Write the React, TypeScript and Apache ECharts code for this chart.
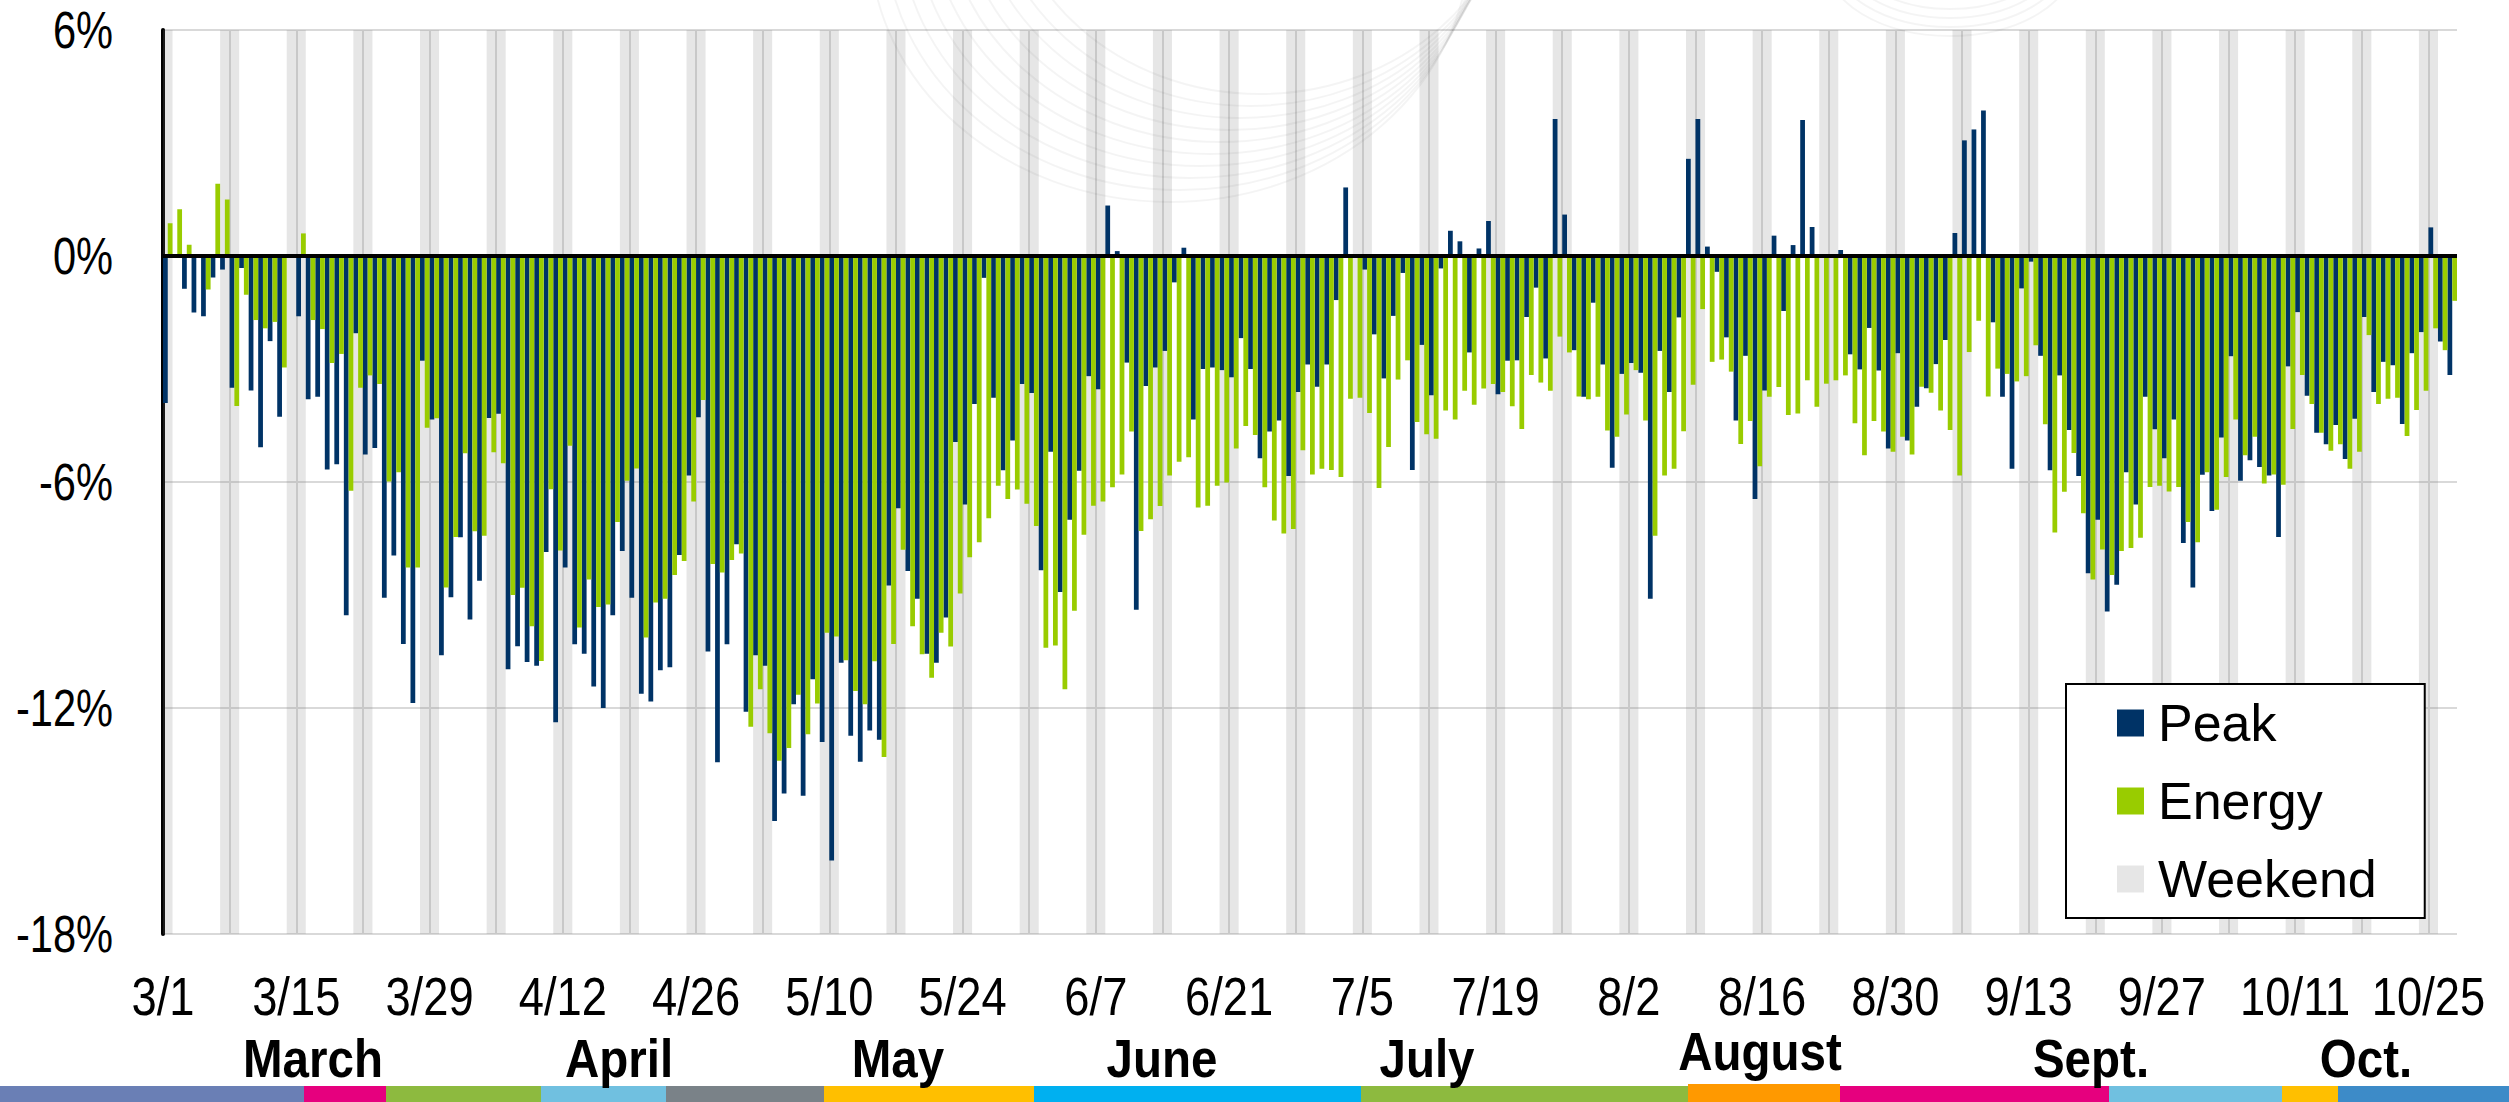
import React, { useEffect, useRef } from 'react';
import * as echarts from 'echarts';

// ---------------- data ----------------
const START_YEAR = 2020;
const START_MONTH = 2; // March (0-based)
const N_DAYS = 241; // 3/1 .. 10/27

const TICK_LABELS = ['3/1', '3/15', '3/29', '4/12', '4/26', '5/10', '5/24', '6/7', '6/21', '7/5', '7/19', '8/2', '8/16', '8/30', '9/13', '9/27', '10/11', '10/25'];
const Y_TICKS = [-18, -12, -6, 0, 6];
const Y_LABELS = ['-18%', '-12%', '-6%', '0%', '6%'];
const MONTHS = ['March', 'April', 'May', 'June', 'July', 'August', 'Sept.', 'Oct.'];
const SERIES_NAMES = ['Peak', 'Energy', 'Weekend'];

// daily % change, Peak (one value per day from 3/1)
const PEAK = [
  -3.9, 0, -0.87, -1.5, -1.6, -0.57, -0.36, -3.5, -0.32, -3.57,
  -5.08, -2.26, -4.27, null, -1.6, -3.8, -3.74, -5.67, -5.53, -9.54,
  -2.05, -5.27, -5.1, -9.07, -7.95, -10.3, -11.87, -2.78, -4.34, -10.6,
  -9.06, -7.47, -9.65, -8.62, -4.3, -4.19, -10.97, -10.36, -10.78, -10.88,
  -7.86, -12.38, -8.27, -10.31, -10.56, -11.43, -12.0, -9.54, -7.83, -9.07,
  -11.62, -11.83, -11.0, -10.92, -7.94, -5.83, -4.28, -10.5, -13.44, -10.31,
  -7.65, -12.1, -10.6, -10.88, -15.0, -14.27, -11.9, -14.33, -11.24, -12.9,
  -16.05, -10.8, -12.74, -13.43, -12.6, -12.84, -8.75, -6.7, -8.36, -9.1,
  -10.56, -10.8, -9.6, -4.94, -6.6, -3.93, -0.58, -3.76, -5.69, -4.9,
  -3.4, -3.64, -8.34, -5.2, -8.92, -7.0, -5.7, -3.19, -3.54, 1.34,
  0.13, -2.83, -9.39, -3.45, -2.96, -2.52, -0.7, 0.22, -4.34, -3.0,
  -2.96, -3.03, -3.22, -2.18, -3.0, -5.37, -4.66, -4.37, -5.84, -3.61,
  -2.88, -3.47, -2.88, -1.17, 1.82, 0, -0.36, -2.08, -3.25, -1.59,
  -0.45, -5.68, -2.36, -3.7, -0.33, 0.67, 0.39, -2.56, 0.2, 0.93,
  -3.67, -2.78, -2.77, -1.62, -0.84, -2.72, 3.64, 1.1, -2.5, -3.74,
  -1.24, -2.88, -5.62, -3.13, -2.84, -3.1, -9.1, -2.52, -3.61, -1.63,
  2.58, 3.64, 0.25, -0.42, -2.16, -4.37, -2.65, -6.45, -3.57, 0.54,
  -1.46, 0.29, 3.61, 0.77, 0, 0, 0.16, -2.61, -3.01, -1.91,
  -3.04, -5.11, -2.58, -4.9, -4.0, -3.51, -2.87, -2.23, 0.61, 3.07,
  3.36, 3.86, -1.76, -3.74, -5.65, -0.86, -0.15, -2.65, -5.69, -3.17,
  -4.62, -5.84, -8.42, -7.0, -9.44, -8.73, -5.74, -6.6, -3.74, -4.6,
  -5.37, -4.34, -7.62, -8.8, -5.81, -6.77, -4.82, -2.66, -5.97, -5.42,
  -5.6, -5.83, -7.46, -2.93, -1.49, -3.71, -4.69, -5.0, -4.49, -5.39,
  -4.32, -1.62, -3.61, -2.81, -2.9, -4.46, -2.58, -2.02, 0.76, -2.27,
  -3.16,
];

// daily % change, Energy
const ENERGY = [
  0.87, 1.24, 0.3, 0, -0.89, 1.92, 1.5, -3.98, -1.03, -1.7,
  -1.92, -1.75, -2.96, null, 0.6, -1.7, -1.94, -2.84, -2.6, -6.23,
  -3.5, -3.17, -3.4, -5.99, -5.74, -8.27, -8.27, -4.56, -4.31, -8.8,
  -7.46, -5.24, -7.31, -7.43, -5.21, -5.5, -9.0, -8.81, -9.83, -10.75,
  -6.19, -7.82, -5.04, -9.86, -8.59, -9.32, -9.25, -7.06, -5.97, -5.64,
  -10.13, -9.2, -9.1, -8.47, -8.1, -6.52, -3.82, -8.18, -8.4, -8.07,
  -7.9, -12.5, -11.5, -12.67, -13.4, -13.06, -11.65, -12.7, -11.88, -10.0,
  -10.1, -10.73, -11.55, -11.9, -10.76, -13.3, -10.3, -7.8, -9.83, -10.57,
  -11.2, -10.0, -10.37, -8.96, -8.0, -7.6, -6.96, -6.1, -6.45, -6.2,
  -6.58, -7.17, -10.4, -10.34, -11.5, -9.42, -7.4, -6.63, -6.52, -6.14,
  -5.8, -4.66, -7.3, -6.99, -6.64, -5.83, -5.46, -5.34, -6.68, -6.63,
  -6.1, -6.01, -5.11, -4.51, -4.75, -6.14, -7.02, -7.37, -7.25, -5.16,
  -5.8, -5.65, -5.68, -5.87, -3.79, -3.76, -4.17, -6.16, -5.07, -3.28,
  -2.77, -4.41, -4.73, -4.85, -4.1, -4.34, -3.58, -3.95, -3.52, -3.4,
  -3.61, -3.99, -4.59, -3.16, -3.36, -3.58, -2.14, -2.56, -3.73, -3.8,
  -3.74, -4.63, -4.8, -4.21, -3.03, -4.37, -7.43, -5.83, -5.65, -4.65,
  -3.42, -1.41, -2.81, -2.75, -3.07, -4.99, -4.38, -5.58, -3.74, -3.48,
  -4.22, -4.18, -3.3, -4.0, -3.39, -3.3, -3.17, -4.44, -5.29, -4.38,
  -4.66, -5.2, -4.8, -5.27, -3.47, -3.63, -4.1, -4.62, -5.83, -2.55,
  -1.72, -3.73, -2.99, -3.13, -3.33, -3.19, -2.37, -4.47, -7.34, -6.26,
  -5.23, -6.83, -8.59, -7.79, -8.47, -7.83, -7.75, -7.48, -6.13, -6.1,
  -6.25, -6.13, -7.06, -7.6, -5.74, -6.74, -5.87, -4.34, -5.29, -4.8,
  -6.04, -5.8, -6.07, -4.59, -3.16, -3.93, -4.69, -5.17, -5.0, -5.65,
  -5.2, -2.1, -3.93, -3.79, -3.76, -4.78, -4.09, -3.58, -1.92, -2.5,
  -1.19,
];

// ---------------- layout / style ----------------
const W = 2509;
const H = 1102;
const GRID = { left: 163, right: 52, top: 30, bottom: 168 };
const PLOT_W = W - GRID.left - GRID.right;
const DAY_PX = PLOT_W / N_DAYS;

const C_PEAK = '#003366';
const C_ENERGY = '#99cc00';
const C_WEEKEND = '#e6e6e6';
const FONT = "'Liberation Sans', Arial, sans-serif";

const X_LABEL_Y = 997;
const Y_LABEL_RIGHT = 113;
const MONTH_X = [313, 619, 898, 1162, 1427, 1760, 2091, 2366];
const MONTH_Y = [1058, 1058, 1058, 1058, 1058, 1051, 1058, 1058];

const STRIP: [number, number, string][] = [
  [0, 304, '#6a7fb5'], [304, 386, '#e6007e'], [386, 541, '#8dba3f'], [541, 666, '#70c0e0'],
  [666, 824, '#7a8288'], [824, 1034, '#ffbf00'], [1034, 1361, '#00b0f0'], [1361, 1688, '#8dba3f'],
  [1688, 1840, '#ff9900'], [1840, 2109, '#e6007e'], [2109, 2282, '#70c0e0'], [2282, 2338, '#ffbf00'],
  [2338, 2509, '#3d8bc8'],
];

function weekendBands(): [number, number][] {
  const bands: [number, number][] = [];
  let start = -1;
  for (let i = 0; i <= N_DAYS; i++) {
    const dow = i < N_DAYS ? new Date(START_YEAR, START_MONTH, 1 + i).getDay() : 3;
    const we = dow === 0 || dow === 6;
    if (we && start < 0) start = i;
    if (!we && start >= 0) { bands.push([start, i]); start = -1; }
  }
  return bands;
}

export default function App() {
  const ref = useRef<HTMLDivElement>(null);

  useEffect(() => {
    if (!ref.current) return;
    const chart = echarts.init(ref.current, undefined, { renderer: 'svg' });
    const bands = weekendBands();
    const barW = DAY_PX / 2;

    chart.setOption({
      animation: false,
      backgroundColor: '#ffffff',
      grid: { ...GRID, containLabel: false },
      legend: {
        data: SERIES_NAMES.map((n) => ({ name: n, icon: 'rect' })),
        orient: 'vertical',
        left: 2066,
        top: 684,
        itemWidth: 27,
        itemHeight: 27,
        itemGap: 22,
        padding: [11, 48, 11, 51],
        backgroundColor: '#ffffff',
        borderColor: '#000000',
        borderWidth: 2,
        selectedMode: false,
        z: 10,
        textStyle: { fontSize: 52, fontFamily: FONT, color: '#000', lineHeight: 56, padding: [0, 0, 0, 9] },
      },
      xAxis: {
        type: 'value',
        min: 0,
        max: N_DAYS,
        interval: 7,
        axisLine: { show: false },
        axisTick: { show: false },
        splitLine: { show: true, showMinLine: false, showMaxLine: false, lineStyle: { color: '#dadada', width: 2 } },
        axisLabel: { show: false },
      },
      yAxis: {
        type: 'value',
        min: -18,
        max: 6,
        interval: 6,
        axisLine: { show: true, lineStyle: { color: '#000', width: 4 } },
        axisTick: { show: false },
        splitLine: { show: true, lineStyle: { color: '#d9d9d9', width: 2 } },
        axisLabel: { show: false },
      },
      series: [
        {
          name: 'Peak',
          type: 'bar',
          barWidth: barW,
          barGap: '-100%',
          z: 2,
          itemStyle: { color: C_PEAK },
          data: PEAK.map((v, i) => [i + 0.25, v]),
        },
        {
          name: 'Energy',
          type: 'bar',
          barWidth: barW,
          barGap: '-100%',
          z: 2,
          itemStyle: { color: C_ENERGY },
          data: ENERGY.map((v, i) => [i + 0.75, v]),
        },
        {
          name: 'Weekend',
          type: 'bar',
          barWidth: barW,
          barGap: '-100%',
          z: 3,
          itemStyle: { color: C_WEEKEND },
          data: [],
          markArea: {
            silent: true,
            label: { show: false },
            itemStyle: { color: 'rgba(128,128,128,0.2)' },
            data: bands.map(([a, b]) => [{ xAxis: a }, { xAxis: b }]),
          },
        },
        {
          name: 'zero',
          type: 'bar',
          barWidth: barW,
          barGap: '-100%',
          z: 4,
          data: [],
          markLine: {
            silent: true,
            symbol: 'none',
            label: { show: false },
            lineStyle: { color: '#000', width: 4, type: 'solid' },
            data: [{ yAxis: 0 }],
          },
        },
      ],
    });

    // ---- texts and decorations placed through the chart's own scales ----
    const graphics: any[] = [];
    // faint watermark swirl
    for (let k = 0; k < 10; k++) {
      graphics.push({
        type: 'ellipse', silent: true, z: 1,
        shape: { cx: 1170 + 10 * k, cy: -60 - 8 * k, rx: 300 - 5 * k, ry: 262 - 4 * k },
        style: { fill: 'none', stroke: 'rgba(0,0,0,0.045)', lineWidth: 2 },
      });
    }
    for (let k = 0; k < 4; k++) {
      graphics.push({
        type: 'ellipse', silent: true, z: 1,
        shape: { cx: 1950, cy: -40 - 6 * k, rx: 125 - 6 * k, ry: 76 - 3 * k },
        style: { fill: 'none', stroke: 'rgba(0,0,0,0.045)', lineWidth: 2 },
      });
    }
    TICK_LABELS.forEach((t, k) => {
      const px = chart.convertToPixel({ xAxisIndex: 0 }, k * 14) as number;
      graphics.push({
        type: 'text', x: px, y: X_LABEL_Y, scaleX: 0.84, z: 5,
        style: { text: t, fill: '#000', font: `54px ${FONT}`, textAlign: 'center', textVerticalAlign: 'middle' },
      });
    });
    Y_TICKS.forEach((v, k) => {
      const py = chart.convertToPixel({ yAxisIndex: 0 }, v) as number;
      graphics.push({
        type: 'text', x: Y_LABEL_RIGHT, y: py, scaleX: 0.8, z: 5,
        style: { text: Y_LABELS[k], fill: '#000', font: `52px ${FONT}`, textAlign: 'right', textVerticalAlign: 'middle' },
      });
    });
    MONTHS.forEach((m, i) => {
      graphics.push({
        type: 'text', x: MONTH_X[i], y: MONTH_Y[i], scaleX: 0.88, z: 5,
        style: { text: m, fill: '#000', font: `bold 54px ${FONT}`, textAlign: 'center', textVerticalAlign: 'middle' },
      });
    });
    STRIP.forEach(([a, b, c]) => {
      const top = c === '#ff9900' ? H - 18 : H - 16;
      graphics.push({ type: 'rect', shape: { x: a, y: top, width: b - a, height: H - top }, style: { fill: c } });
    });
    chart.setOption({ graphic: graphics });

    return () => chart.dispose();
  }, []);

  return <div ref={ref} style={{ position: 'fixed', left: 0, top: 0, width: W, height: H }} />;
}
